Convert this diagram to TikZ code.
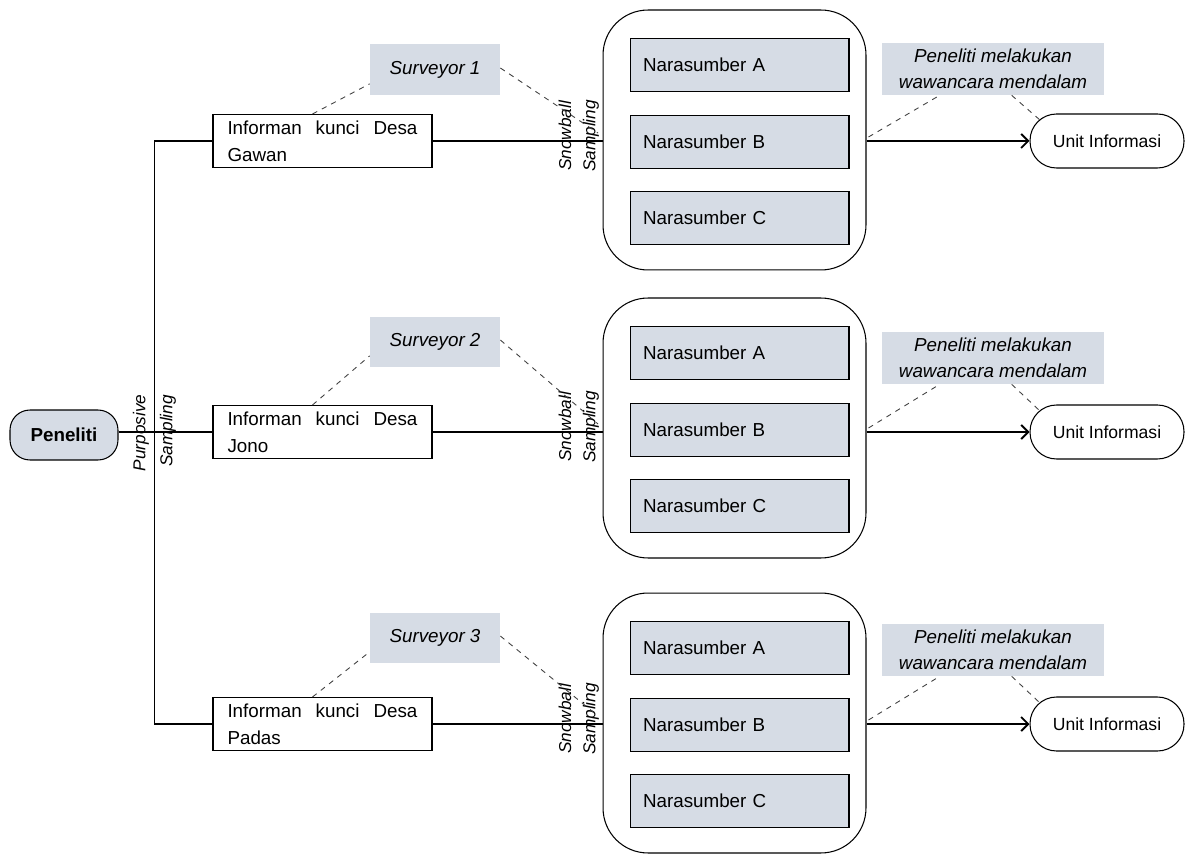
\documentclass[tikz,border=0pt]{standalone}
\usepackage{fontspec}
\setmainfont{Liberation Sans}
\usepackage{tikz}
\usetikzlibrary{arrows.meta,calc,positioning}
\definecolor{abu}{RGB}{214,220,229}
\tikzset{
    garis/.style={line width=1.1pt, black},
    % garis putus-putus penghubung catatan
    putus/.style={dashed, line width=0.5pt, black!75},
    panah/.style={
        line width=1.1pt,
        black,
        -{Straight Barb[length=4pt, width=8pt, line width=1.1pt]}
    },
    kotakpeneliti/.style={draw, line width=0.6pt, fill=abu, rounded corners=0.4cm,
        minimum width=2.16cm, minimum height=1cm, font=\fontsize{10.7}{13}\selectfont\bfseries},
    kotakinfo/.style={draw, line width=0.6pt, fill=white, minimum width=4.38cm, minimum height=1.06cm,
        inner xsep=0.29cm, inner ysep=1pt, text width=3.8cm, align=left,
        font=\fontsize{10.7}{15.5}\selectfont},
    kotaksurveyor/.style={fill=abu, minimum width=2.6cm, minimum height=1.02cm,
        font=\fontsize{10.7}{13}\selectfont\itshape},
    wadah/.style={draw, line width=0.6pt, rounded corners=0.9cm, minimum width=5.26cm, minimum height=5.2cm},
    narasumber/.style={draw, line width=0.6pt, fill=abu, minimum width=4.38cm, minimum height=1.06cm,
        inner xsep=0.26cm, text width=3.86cm, align=left, font=\fontsize{10.7}{13}\selectfont},
    unit/.style={draw, line width=0.6pt, fill=white, rounded corners=0.53cm,
        minimum width=3.08cm, minimum height=1.08cm, font=\fontsize{10}{12}\selectfont},
    catatan/.style={fill=abu, minimum width=4.44cm, minimum height=1.04cm, inner sep=0pt,
        align=center, font=\fontsize{10.7}{14.8}\selectfont\itshape},
    miring/.style={rotate=90, inner sep=0pt, font=\fontsize{9.8}{11}\selectfont\itshape}
}
\begin{document}
\begin{tikzpicture}[x=0.02cm, y=-0.02cm]
    \useasboundingbox (0,0) rectangle (1186,854);

    \foreach \i/\y/\ys/\yn/\yc/\desa in {1/141/70/69/140/Gawan, 2/432/342/358/428/Jono, 3/724/638/650/723/Padas}{
        \node[kotakinfo] (info\i) at (322.5,\y) {\makebox[3.8cm][l]{Informan\hfill kunci\hfill Desa}\\\desa};
        \node[kotaksurveyor] (surv\i) at (435,\ys) {Surveyor \i};
        \node[wadah] (wadah\i) at (734.5,\yc) {};
        \node[narasumber] (nA\i) at (739.5,\yc-75) {Narasumber A};
        \node[narasumber] (nB\i) at (739.5,\yc+2) {Narasumber B};
        \node[narasumber] (nC\i) at (739.5,\yc+78) {Narasumber C};
        \node[unit] (unit\i) at (1107,\y) {Unit Informasi};
        \node[catatan] (catatan\i) at (993,\yn) {Peneliti melakukan\\wawancara mendalam};
        \node[miring] (snowball\i) at (565,\y-5) {Snowball};
        \node[miring] (sampling\i) at (591,\y-5) {Sampling};
        \coordinate (snow\i) at (598,\y-8);

        \draw[garis] (info\i.east) -- (info\i.east -| wadah\i.west);
        \draw[panah] (wadah\i.east |- unit\i.west) -- (unit\i.west);
        \draw[putus] ($(info\i.north)+(-10,0)$) -- ($(surv\i.south west)+(0,-12)$);
        \draw[putus] ($(surv\i.east)+(0,-2)$) -- (snow\i);
        \draw[putus] ($(wadah\i.east |- unit\i.west)+(2,-4)$) -- ($(catatan\i.south west)+(58,0)$);
        \draw[putus] ($(catatan\i.south west)+(130,0)$) -- ($(unit\i.north west)+(11,7)$);
    }

    \node[kotakpeneliti] (peneliti) at (64,435) {Peneliti};
    \draw[garis] (peneliti.east |- info2.west) -- (info2.west);
    \draw[garis] (info1.west) -- ++(-58,0) |- (info3.west);
    \node[miring] (purposive) at (141,433) {Purposive};
    \node[miring] (sampling) at (168,431) {Sampling};
\end{tikzpicture}
\end{document}
